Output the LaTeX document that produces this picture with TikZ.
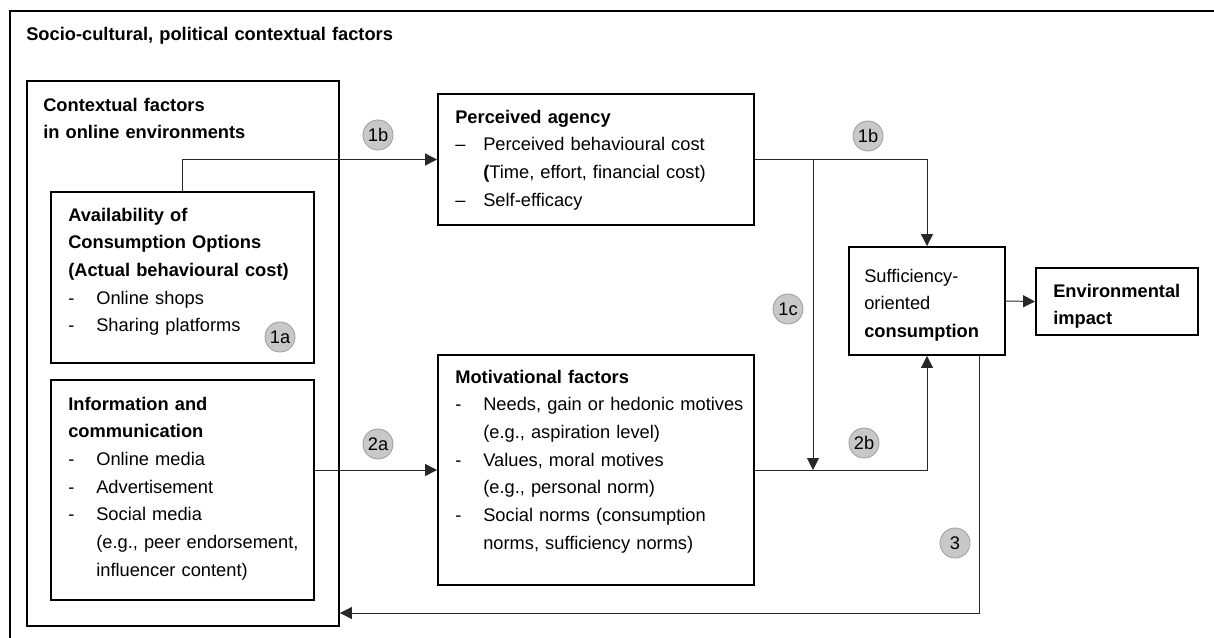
\documentclass[tikz,border=0pt]{standalone}
\usepackage{fontspec}
\setmainfont{Liberation Sans}
\usepackage{tikz}
\usetikzlibrary{arrows.meta, fit}
\definecolor{badgeGray}{RGB}{200, 200, 200}
\definecolor{badgeEdge}{RGB}{160, 160, 160}
\definecolor{lineGray}{RGB}{40, 40, 40}
\newcommand{\itm}{\makebox[0.7cm][l]{-}}
\newcommand{\itmdash}{\makebox[0.7cm][l]{--}}
\newcommand{\itmgap}{\hspace*{0.7cm}}

\begin{document}
\begin{tikzpicture}[x=0.025cm, y=-0.025cm,
    box/.style={draw, line width=1.3pt, inner sep=0pt},
    txt/.style={anchor=base west, inner sep=0pt, text width=12cm, align=left,
      font=\fontsize{13pt}{19.7pt}\selectfont},
    badge/.style={circle, fill=badgeGray, draw=badgeEdge, line width=0.6pt,
      minimum size=0.75cm, inner sep=0pt, font=\fontsize{13pt}{13pt}\selectfont},
    conn/.style={draw=lineGray, line width=0.7pt},
    arr/.style={conn, -{Triangle[length=0.3cm, width=0.3cm]}}]
  \useasboundingbox (0,0) rectangle (1214,637);

  % Outer frame (runs off the page on the right and bottom)
  \draw[line width=1.6pt] (1240,11) -- (10,11) -- (10,660);
  \node[txt] (title) at (26,41) {\textbf{Socio-cultural, political contextual factors}};

  % Online environment boxes
  \node[box, fit={(27,81) (339,626)}] (ctx) {};
  \node[txt] (ctxtxt) at (43,111) {\textbf{Contextual factors}\\ \textbf{in online environments}};

  \node[box, fit={(51,192) (314,363)}] (avail) {};
  \node[txt] (availtxt) at (68,221) {\textbf{Availability of}\\ \textbf{Consumption Options}\\
    \textbf{(Actual behavioural cost)}\\ \itm Online shops\\ \itm Sharing platforms};

  \node[box, fit={(51,380) (314,600)}] (info) {};
  \node[txt] (infotxt) at (68,410) {\textbf{Information and}\\ \textbf{communication}\\
    \itm Online media\\ \itm Advertisement\\ \itm Social media\\
    \itmgap (e.g., peer endorsement,\\ \itmgap influencer content)};

  % Individual factors
  \node[box, fit={(438,94) (754,225)}] (agency) {};
  \node[txt] (agencytxt) at (455,123) {\textbf{Perceived agency}\\
    \itmdash Perceived behavioural cost\\ \itmgap\textbf{(}Time, effort, financial cost)\\
    \itmdash Self-efficacy};

  \node[box, fit={(438,355) (754,585)}] (motiv) {};
  \node[txt] (motivtxt) at (455,383) {\textbf{Motivational factors}\\
    \itm Needs, gain or hedonic motives\\ \itmgap (e.g., aspiration level)\\
    \itm Values, moral motives\\ \itmgap (e.g., personal norm)\\
    \itm Social norms (consumption\\ \itmgap norms, sufficiency norms)};

  % Behaviour and impact
  \node[box, fit={(849,247) (1005,355)}] (suff) {};
  \node[txt] (sufftxt) at (864,282) {Sufficiency-\\ oriented\\ \textbf{consumption}};

  \node[box, fit={(1036,268) (1198,335)}] (env) {};
  \node[txt] (envtxt) at (1053,297) {\textbf{Environmental}\\ \textbf{impact}};

  % Connectors
  \coordinate (split) at (813,159.5);
  \coordinate (back) at (979,613);
  \draw[arr] (avail.north) |- (agency.west);
  \draw[arr] (agency.east) -| (suff.north);
  \draw[arr] (split) -- (split |- motiv.east);
  \draw[arr] (info.east |- motiv.west) -- (motiv.west);
  \draw[arr] (motiv.east) -| (suff.south);
  \draw[arr] (suff.east) -- (env.west);
  \draw[arr] (suff.south -| back) -- (back) -- (back -| ctx.east);

  % Path labels
  \node[badge] (b1bleft) at (378,135) {1b};
  \node[badge] (b1bright) at (868,136) {1b};
  \node[badge] (b1a) at (280,337) {1a};
  \node[badge] (b1c) at (788,309) {1c};
  \node[badge] (b2a) at (378,444) {2a};
  \node[badge] (b2b) at (864,443) {2b};
  \node[badge] (b3) at (955,543) {3};
\end{tikzpicture}
\end{document}
